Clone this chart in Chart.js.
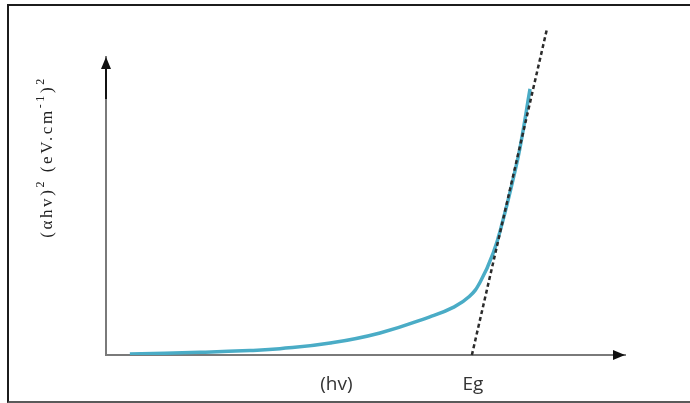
<!DOCTYPE html>
<html>
<head>
<meta charset="utf-8">
<script src="https://cdn.jsdelivr.net/npm/chart.js@4.4.1/dist/chart.umd.min.js"></script>
<style>
  html, body { margin: 0; padding: 0; background: #fff; overflow: hidden; }
  #wrap { position: relative; width: 690px; height: 403px; }
  #frame {
    position: absolute; left: 7px; top: 4px; width: 720px; height: 395px;
    border: 2px solid #1c1c1c; border-bottom-color: #5a5a5a;
  }
  canvas { position: absolute; left: 0; top: 0; }
</style>
</head>
<body>
<div id="wrap">
  <div id="frame"></div>
  <canvas id="taucChart" width="690" height="403"></canvas>
</div>
<script>
// absorption edge curve
const hv = [4.6, 18.1, 27.7, 33.5, 43.2, 52.8, 62.4, 66.9, 70.0, 72.1, 74.6, 76.5, 78.4, 79.8, 81.7];
const absorb = [0.3, 0.9, 1.5, 2.1, 4.0, 7.4, 12.8, 16.0, 19.6, 24.5, 34.2, 45.3, 58.7, 69.8, 89.3];

// straight-line extrapolation to the axis
const fitX = [70.5, 85.0];
const fitY = [0, 109.7];

// x axis labels
const tickPos = [44.4, 70.7];
const tickText = ['(hv)', 'Eg'];

// y axis label pieces: [text, superscript?]
const yLabel = [['(\u03b1hv)', false], ['2', true], [' (eV.cm', false], ['-1', true], [')', false], ['2', true]];

const axisDecor = {
    id: 'axisDecor',
    afterDraw(chart) {
        const ctx = chart.ctx;
        const a = chart.chartArea;
        ctx.save();
        ctx.fillStyle = '#111';
        ctx.strokeStyle = '#111';
        ctx.lineWidth = 2;
        // dark part near the arrow tips
        ctx.beginPath();
        ctx.moveTo(a.left, a.top + 8);
        ctx.lineTo(a.left, a.top + 42);
        ctx.stroke();
        // up arrow
        ctx.beginPath();
        ctx.moveTo(a.left, a.top);
        ctx.lineTo(a.left - 5, a.top + 12);
        ctx.lineTo(a.left + 5, a.top + 12);
        ctx.closePath();
        ctx.fill();
        // right arrow
        ctx.beginPath();
        ctx.moveTo(a.right, a.bottom);
        ctx.lineTo(a.right - 12, a.bottom - 5);
        ctx.lineTo(a.right - 12, a.bottom + 5);
        ctx.closePath();
        ctx.fill();

        // rotated y title
        ctx.translate(47, 157);
        ctx.rotate(-Math.PI / 2);
        ctx.fillStyle = '#222';
        ctx.textBaseline = 'middle';
        ctx.letterSpacing = '2.6px';
        const fontFor = sup => (sup ? '12px' : '17px') + ' "Liberation Serif", serif';
        let total = 0;
        yLabel.forEach(([t, sup]) => {
            ctx.font = fontFor(sup);
            total += ctx.measureText(t).width;
        });
        let x = -total / 2;
        yLabel.forEach(([t, sup]) => {
            ctx.font = fontFor(sup);
            ctx.textAlign = 'left';
            ctx.fillText(t, x, sup ? -6 : 1);
            x += ctx.measureText(t).width;
        });
        ctx.restore();
    }
};

new Chart(document.getElementById('taucChart'), {
    type: 'line',
    data: {
        datasets: [
            {
                data: hv.map((v, i) => ({ x: v, y: absorb[i] })),
                borderColor: '#4aacc6',
                borderWidth: 3.5,
                pointRadius: 0,
                tension: 0.45,
                order: 2
            },
            {
                data: fitX.map((v, i) => ({ x: v, y: fitY[i] })),
                borderColor: '#2b2b2b',
                borderWidth: 2.5,
                borderDash: [4, 3],
                pointRadius: 0,
                clip: false,
                order: 1
            }
        ]
    },
    options: {
        responsive: false,
        animation: false,
        events: [],
        layout: { padding: { top: 57, right: 65, left: 0, bottom: 0 } },
        plugins: { legend: { display: false }, tooltip: { enabled: false } },
        scales: {
            x: {
                type: 'linear',
                min: 0,
                max: 100,
                grid: { display: false },
                border: { display: true, color: '#7a7a7a', width: 2 },
                afterBuildTicks: s => { s.ticks = tickPos.map(v => ({ value: v })); },
                afterFit: s => { s.height = 48; },
                ticks: {
                    autoSkip: false,
                    maxRotation: 0,
                    padding: 10,
                    color: '#333',
                    font: { family: '"Open Sans", sans-serif', size: 19 },
                    callback: (v, i) => tickText[i]
                }
            },
            y: {
                type: 'linear',
                min: 0,
                max: 100,
                grid: { display: false },
                border: { display: true, color: '#7a7a7a', width: 2 },
                afterFit: s => { s.width = 106; },
                ticks: { display: false }
            }
        }
    },
    plugins: [axisDecor]
});
</script>
</body>
</html>
